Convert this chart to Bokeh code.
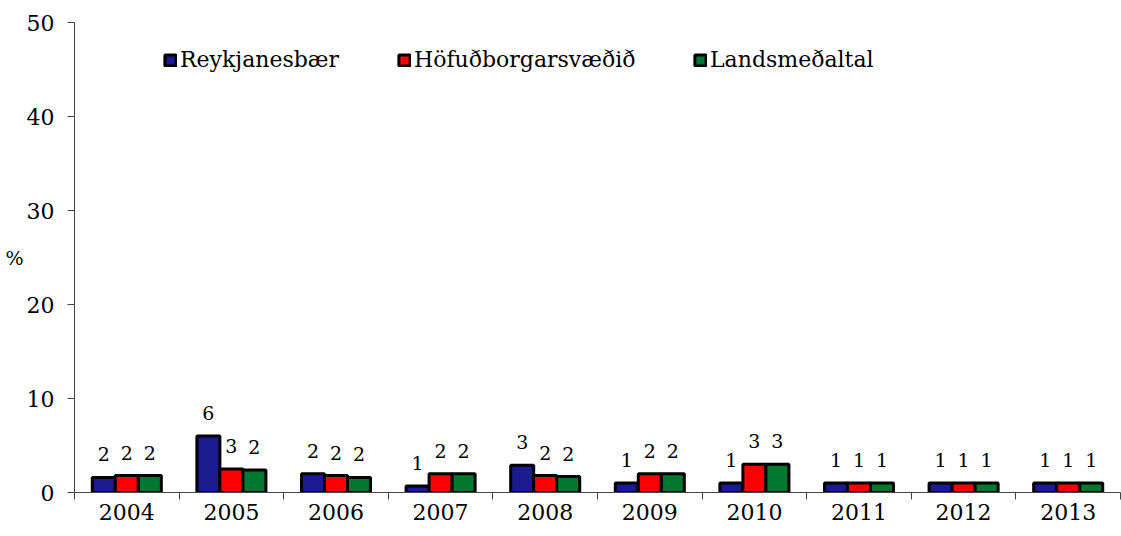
import math
from bokeh.plotting import figure
from bokeh.models import (ColumnDataSource, Range1d, FixedTicker, Legend, LegendItem, LabelSet)
from bokeh.core.properties import value
from bokeh.embed import file_html
from bokeh.resources import INLINE

years = ["2004", "2005", "2006", "2007", "2008", "2009", "2010", "2011", "2012", "2013"]
series_names = ["Reykjanesbær", "Höfuðborgarsvæðið", "Landsmeðaltal"]
reykjanesbaer = [1.6, 6.0, 2.0, 0.7, 2.9, 1.0, 1.0, 1.0, 1.0, 1.0]
hofudborgarsvaedid = [1.8, 2.5, 1.8, 2.0, 1.8, 2.0, 3.0, 1.0, 1.0, 1.0]
landsmedaltal = [1.8, 2.4, 1.6, 2.0, 1.7, 2.0, 3.0, 1.0, 1.0, 1.0]
y_ticks = [0, 10, 20, 30, 40, 50]
colors = ["#1C1A8E", "#FF0000", "#00782F"]

FONT = "DejaVu Serif"

p = figure(frame_width=1046, frame_height=470, output_backend="svg", toolbar_location=None,
           x_range=Range1d(0, len(years)), y_range=Range1d(0, 50),
           min_border_left=74, min_border_top=22, min_border_right=1, min_border_bottom=10)
p.outline_line_color = None
p.xgrid.visible = False
p.ygrid.visible = False
p.background_fill_color = "white"
p.border_fill_color = "white"

centers = [i + 0.5 for i in range(len(years))]
offsets = [-0.22, 0.0, 0.22]
bar_w = 0.22
all_series = [reykjanesbaer, hofudborgarsvaedid, landsmedaltal]
legend_x = [89, 323, 619]

for k, (vals, col, name) in enumerate(zip(all_series, colors, series_names)):
    xs = [c + offsets[k] for c in centers]
    labels = [str(int(math.floor(v + 0.5))) for v in vals]
    src = ColumnDataSource(dict(x=xs, top=vals, lab=labels))
    r = p.vbar(x="x", top="top", width=bar_w, source=src, fill_color=col,
               line_color="black", line_width=3)
    ls = LabelSet(x="x", y="top", text="lab", source=src, text_align="center",
                  text_baseline="alphabetic", y_offset=16, text_font=value(FONT),
                  text_font_size=value("19px"), text_color=value("black"))
    p.add_layout(ls)
    leg = Legend(items=[LegendItem(label=name, renderers=[r])], orientation="horizontal",
                 location=(legend_x[k], 420),
                 glyph_width=14, glyph_height=14, label_standoff=3,
                 padding=0, margin=0, border_line_color=None, background_fill_alpha=0,
                 label_text_font=FONT, label_text_font_size="22px", label_text_color="black")
    p.add_layout(leg)

# x axis
p.xaxis.ticker = FixedTicker(ticks=centers, minor_ticks=list(range(len(years) + 1)))
p.xaxis.major_label_overrides = {c: y for c, y in zip(centers, years)}
p.xaxis.major_tick_line_color = None
p.xaxis.major_tick_in = 0
p.xaxis.major_tick_out = 7
p.xaxis.minor_tick_in = 0
p.xaxis.minor_tick_out = 7
p.xaxis.minor_tick_line_color = "#444444"
p.xaxis.axis_line_color = "#444444"
p.xaxis.major_label_text_font = FONT
p.xaxis.major_label_text_font_size = "22px"
p.xaxis.major_label_text_color = "black"
p.xaxis.major_label_standoff = 4

# y axis
p.yaxis.ticker = FixedTicker(ticks=y_ticks, minor_ticks=[])
p.yaxis.major_tick_in = 0
p.yaxis.major_tick_out = 7
p.yaxis.major_tick_line_color = "#444444"
p.yaxis.axis_line_color = "#444444"
p.yaxis.major_label_text_font = FONT
p.yaxis.major_label_text_font_size = "22px"
p.yaxis.major_label_text_color = "black"
p.yaxis.major_label_standoff = 13
p.yaxis.axis_label = "%"
p.yaxis.axis_label_orientation = "horizontal"
p.yaxis.axis_label_text_font = FONT
p.yaxis.axis_label_text_font_size = "19px"
p.yaxis.axis_label_text_font_style = "normal"
p.yaxis.axis_label_text_color = "black"
p.yaxis.axis_label_standoff = 0

open("out.html", "w").write(file_html(p, INLINE))
